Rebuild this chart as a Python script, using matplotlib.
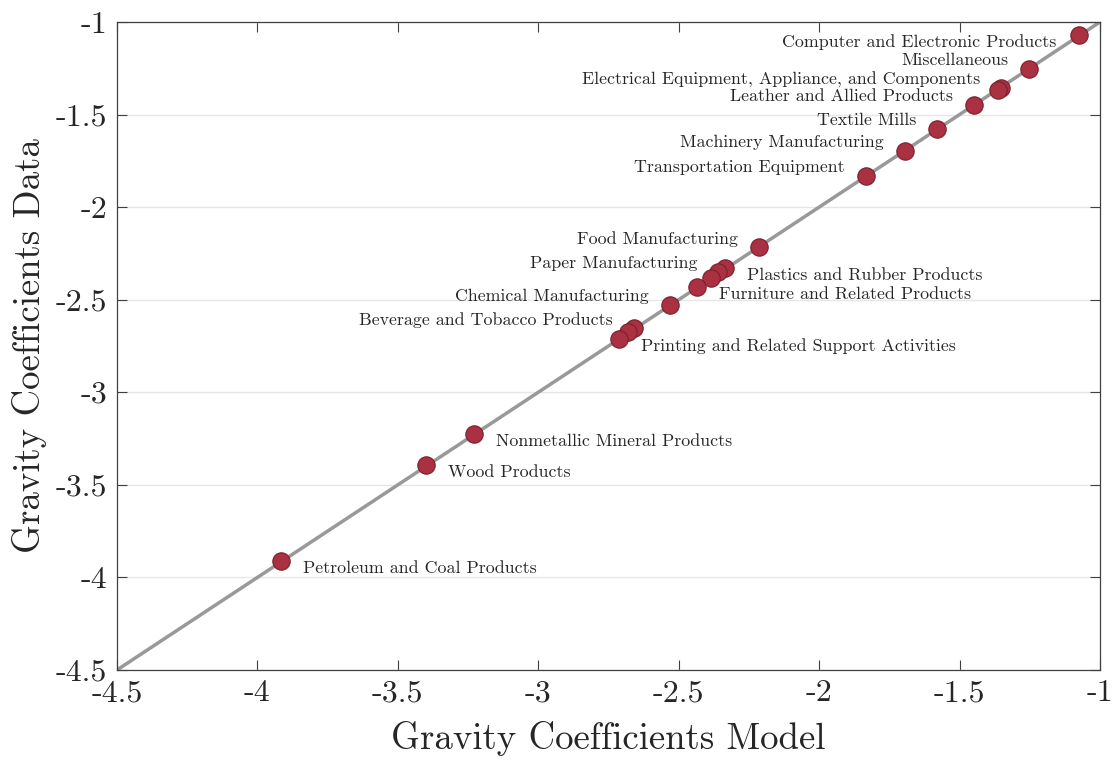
import matplotlib
matplotlib.use("Agg")
import matplotlib.pyplot as plt

plt.rcParams["font.family"] = ["cmr10", "DejaVu Serif"]
plt.rcParams["axes.unicode_minus"] = False
plt.rcParams["mathtext.fontset"] = "cm"

# Industry gravity coefficients: model vs data
industries = [
    "Computer and Electronic Products",
    "Miscellaneous",
    "Electrical Equipment, Appliance, and Components",
    "",
    "Leather and Allied Products",
    "Textile Mills",
    "Machinery Manufacturing",
    "Transportation Equipment",
    "Food Manufacturing",
    "Plastics and Rubber Products",
    "Paper Manufacturing",
    "",
    "Furniture and Related Products",
    "Chemical Manufacturing",
    "Beverage and Tobacco Products",
    "",
    "Printing and Related Support Activities",
    "Nonmetallic Mineral Products",
    "Wood Products",
    "Petroleum and Coal Products",
]
coef_model = [-1.075, -1.253, -1.353, -1.364, -1.449, -1.581, -1.695, -1.834,
              -2.215, -2.336, -2.360, -2.385, -2.435, -2.531, -2.660, -2.681,
              -2.713, -3.229, -3.400, -3.916]
coef_data = [-1.070, -1.254, -1.357, -1.367, -1.448, -1.578, -1.697, -1.832,
             -2.216, -2.329, -2.351, -2.383, -2.432, -2.529, -2.653, -2.675,
             -2.713, -3.226, -3.393, -3.912]
# where each label sits relative to its marker
label_side = ["below-left", "left", "left", "left", "left", "left", "left", "left",
              "left", "right", "left", "left", "right", "left", "left", "left",
              "right", "right", "right", "right"]

ticks = [-4.5, -4, -3.5, -3, -2.5, -2, -1.5, -1]
tick_labels = ["-4.5", "-4", "-3.5", "-3", "-2.5", "-2", "-1.5", "-1"]
lims = (-4.5, -1)

text_col = "#262626"
fig = plt.figure(figsize=(11.17, 7.6), dpi=100)
ax = fig.add_axes([0.1047, 0.1184, 0.8801, 0.8527])

ax.set_xlim(lims)
ax.set_ylim(lims)
ax.grid(axis="y", color="#e6e6e6", linewidth=1.0, zorder=0)
ax.set_axisbelow(True)

# 45-degree reference line
ax.plot(lims, lims, color="#999999", linewidth=2.5, zorder=2)
ax.plot(coef_model, coef_data, linestyle="none", marker="o", markersize=12.5,
        markerfacecolor="#a93142", markeredgecolor="#7a1f2c", markeredgewidth=0.8,
        zorder=3)

offsets = {"left": ((-15, 6), "right"),
           "below-left": ((-16, -5), "right"),
           "right": ((16, -5), "left")}
for name, x, y, side in zip(industries, coef_model, coef_data, label_side):
    if not name:
        continue
    off, ha = offsets[side]
    ax.annotate(name, (x, y), xytext=off, textcoords="offset points",
                ha=ha, va="center", fontsize=12.9, color=text_col, zorder=4)

ax.set_xticks(ticks)
ax.set_yticks(ticks)
ax.set_xticklabels(tick_labels)
ax.set_yticklabels(tick_labels)
ax.tick_params(direction="in", length=7, width=0.8, color="#404040",
               top=True, right=True, labelsize=23, labelcolor=text_col, pad=7)
for sp in ax.spines.values():
    sp.set_color("#404040")
    sp.set_linewidth(0.9)

ax.set_xlabel("Gravity Coefficients Model", fontsize=26.5, color=text_col, labelpad=10)
ax.set_ylabel("Gravity Coefficients Data", fontsize=26.5, color=text_col, labelpad=6)

fig.savefig("out.png", dpi=100)
